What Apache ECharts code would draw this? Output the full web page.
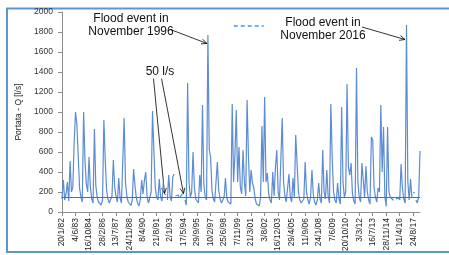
<!DOCTYPE html>
<html>
<head>
<meta charset="utf-8">
<script src="https://cdn.jsdelivr.net/npm/echarts@6/dist/echarts.min.js"></script>
<style>
  html, body { margin: 0; padding: 0; background: #fff; }
  #chart { width: 449px; height: 255px; }
</style>
</head>
<body>
<div id="chart"></div>
<script>
// dates: one point every 50 days from 20/1/1982, a tick label every 10 points (500 days)
var startDate = Date.UTC(1982, 0, 20);
var stepDays = 50;

// portata Q [l/s], one value every 50 days (null = no data)
var portata = [
  130, 320, 120, 180, 300, 110, 510, 200, 250, 690,
  1000, 880, 560, 240, 150, 100, 1000, 520, 280, 200,
  550, 250, 130, 90, 830, 270, 150, 100, 80, 70,
  120, 920, 520, 220, 130, 90, 75, 160, 520, 250,
  150, 100, 340, 140, 90, 75, 940, 290, 160, 100,
  80, 65, 120, 430, 270, 140, 90, 60, 130, 320,
  180, 320, 400, 150, 90, 70, 200, 1010, 620, 250,
  150, 120, 330, 150, 110, 300, null, null, 120, 370,
  160, 110, 350, 380, null, null, null, null, null, null,
  null, 120, 70, 1290, 300, 150, 200, 600, 250, 130,
  110, 90, 370, 200, 1070, 280, 150, 120, 1770, 620,
  550, 220, 130, 100, 80, 500, 220, 130, 90, 70,
  150, 340, 140, 100, 120, 80, 1080, 300, 570, 1020,
  300, 650, 250, 180, 620, 300, 160, 1120, 570, 200,
  420, 290, 240, 130, 80, 70, 60, 150, 860, 300,
  1150, 300, 390, 180, 120, 90, 400, 160, 450, 620,
  200, 120, 100, 940, 300, 160, 100, 80, 380, 150,
  100, 340, 150, 770, 490, 200, 120, 90, 70, 130,
  500, 200, 120, 80, 150, 420, 180, 100, 70, 120,
  290, 130, 90, 620, 200, 130, 420, 160, 90, 1080,
  550, 200, 120, 90, 290, 130, 80, 1050, 300, 150,
  200, 1280, 450, 370, 490, 180, 110, 80, 1440, 300,
  150, 100, 490, 320, 150, 460, 200, 120, 80, 750,
  720, 240, 150, 100, 240, 200, 1070, 400, 850, 150,
  55, 850, 200, 150, null, null, null, null, null, null,
  120, 480, 240, 130, 90, 1870, 300, 120, 330, 150,
  null, null, 120, 90, 150, 610
];

// gap periods (dashed), index -> value
var gapIndex = [76, 77, 84, 85, 86, 87, 88, 89, 90, 243, 244, 245, 246, 247, 248, 249, 250, 260, 261];
var gapValue = [180, 170, 160, 150, 170, 140, 150, 180, 190, 150, 130, 120, 140, 130, 120, 140, 120, 200, 190];

var soglia = 150;

var gapFill = portata.map(function () { return null; });
gapIndex.forEach(function (idx, k) { gapFill[idx] = gapValue[k]; });

var dates = [];
for (var i = 0; i < portata.length; i++) {
  var d = new Date(startDate + i * stepDays * 86400000);
  dates.push(d.getUTCDate() + '/' + (d.getUTCMonth() + 1) + '/' + String(d.getUTCFullYear()).slice(2));
}

function arrow(x1, y1, x2, y2) {
  var a = Math.atan2(y2 - y1, x2 - x1), L = 6, w = 0.42;
  return [
    { type: 'line', shape: { x1: x1, y1: y1, x2: x2, y2: y2 }, style: { stroke: '#000', lineWidth: 0.8 } },
    { type: 'polyline', shape: { points: [
        [x2 - L * Math.cos(a - w), y2 - L * Math.sin(a - w)], [x2, y2],
        [x2 - L * Math.cos(a + w), y2 - L * Math.sin(a + w)]] },
      style: { stroke: '#000', fill: null, lineWidth: 0.8 } }
  ];
}

var font = 'Liberation Sans, Arial, sans-serif';
var labelStyle = { font: '12px ' + font, fill: '#111', textAlign: 'center' };

var graphics = [
  { type: 'rect', shape: { x: 7, y: 8.5, width: 460, height: 243.5 }, style: { stroke: '#5b95d6', lineWidth: 2, fill: null }, silent: true },
  { type: 'text', x: 131, y: 13, style: Object.assign({ text: 'Flood event in' }, labelStyle) },
  { type: 'text', x: 131, y: 26, style: Object.assign({ text: 'November 1996' }, labelStyle) },
  { type: 'text', x: 323, y: 17, style: Object.assign({ text: 'Flood event in' }, labelStyle) },
  { type: 'text', x: 323, y: 30, style: Object.assign({ text: 'November 2016' }, labelStyle) },
  { type: 'text', x: 160, y: 66, style: Object.assign({ text: '50 l/s' }, labelStyle) }
].concat(
  arrow(170.5, 29.5, 207, 43.5),
  arrow(362, 27, 405, 39.5),
  arrow(153.5, 78.5, 164.5, 193.5),
  arrow(161.5, 78.5, 183.5, 193.5)
);

var myChart = echarts.init(document.getElementById('chart'));

var option = {
  animation: false,
  textStyle: { fontFamily: font },
  grid: { left: 62, right: 29, top: 12, bottom: 43 },
  legend: {
    data: ['50 l/s'],
    left: 228,
    top: 15,
    itemWidth: 30,
    itemHeight: 12,
    itemStyle: { color: 'rgba(0,0,0,0)', borderWidth: 0 },
    lineStyle: { width: 1.5, type: [4, 3], color: '#3d98ec' },
    formatter: function () { return ''; },
    textStyle: { fontSize: 1 }
  },
  xAxis: {
    type: 'category',
    data: dates,
    boundaryGap: false,
    axisLine: { lineStyle: { color: '#8c8c8c' } },
    axisTick: { interval: 9, length: 4, lineStyle: { color: '#8c8c8c' } },
    axisLabel: { interval: 9, rotate: 90, fontSize: 8.5, color: '#222', margin: 6 }
  },
  yAxis: {
    type: 'value',
    min: 0,
    max: 2000,
    interval: 200,
    name: 'Portata - Q [l/s]',
    nameLocation: 'middle',
    nameGap: 34,
    nameTextStyle: { fontSize: 8.5, color: '#222' },
    axisLine: { show: true, lineStyle: { color: '#8c8c8c' } },
    axisTick: { show: true, length: 4, lineStyle: { color: '#8c8c8c' } },
    splitLine: { show: false },
    axisLabel: { fontSize: 8.5, color: '#333', margin: 9, formatter: function (v) { return String(v); } }
  },
  series: [
    {
      name: 'Portata',
      type: 'line',
      data: portata,
      symbol: 'none',
      connectNulls: false,
      lineStyle: { color: '#5b8cd4', width: 1.2 },
      itemStyle: { color: '#5b8cd4' },
      markLine: {
        silent: true,
        symbol: ['none', 'none'],
        label: { show: false },
        lineStyle: { color: '#4f7199', width: 1, type: 'solid' },
        data: [{ yAxis: soglia }]
      }
    },
    {
      name: '50 l/s',
      type: 'line',
      data: gapFill,
      symbol: 'none',
      lineStyle: { color: '#3d98ec', width: 1.2, type: 'dashed' },
      itemStyle: { color: '#3d98ec' }
    }
  ],
  graphic: graphics
};

myChart.setOption(option);
</script>
</body>
</html>
